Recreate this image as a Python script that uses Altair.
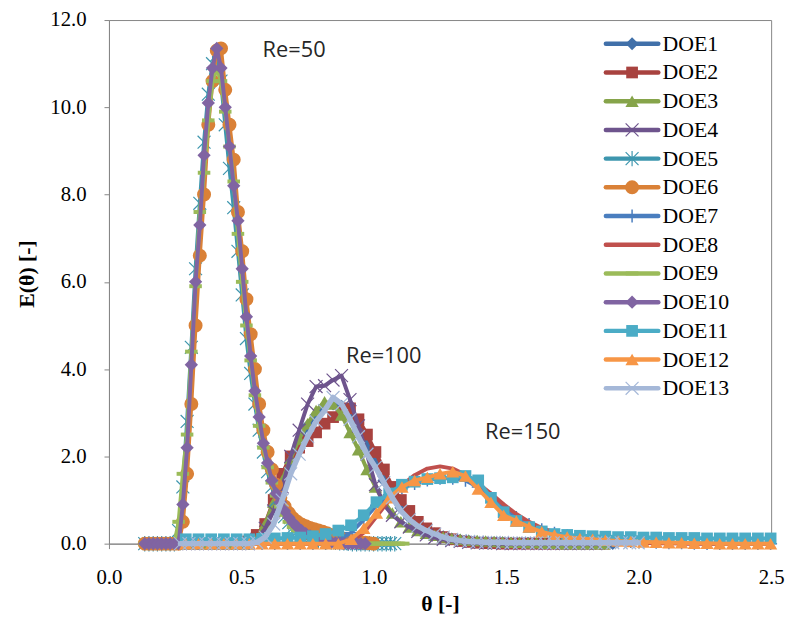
import altair as alt
import pandas as pd

# ---------------- data ----------------
# sampling grids: start theta and step for each Re group
RE50_START, RE50_STEP = 0.135, 0.016
RE100_START, RE100_STEP = 0.27, 0.032
RE150_START, RE150_STEP = 0.29, 0.048

# Re = 100 group
doe1 = [0, 0, 0, 0, 0, 0, 0, 0, 0, 0.1, 0.4, 0.85, 1.35, 1.85, 2.3, 2.7, 2.95, 3.15, 3.2, 3.15,
        2.95, 2.6, 2.25, 1.85, 1.45, 1.1, 0.82, 0.6, 0.43, 0.31, 0.22, 0.16, 0.11, 0.08, 0.06, 0.04,
        0.03, 0.02, 0.02, 0.01, 0.01, 0.01, 0, 0, 0, 0, 0, 0, 0, 0, 0, 0]
doe2 = [0, 0, 0, 0, 0, 0, 0, 0, 0.05, 0.2, 0.45, 1.0, 1.6, 2.0, 2.2, 2.35, 2.55, 2.75, 2.9, 3.0,
        3.1, 2.85, 2.5, 2.1, 1.7, 1.3, 1.0, 0.75, 0.5, 0.35, 0.24, 0.15, 0.1, 0.06, 0.04, 0.02,
        0.01, 0.01, 0, 0, 0, 0, 0, 0, 0, 0, 0, 0, 0, 0, 0]
doe3 = [0, 0, 0, 0, 0, 0, 0, 0, 0, 0.1, 0.45, 0.95, 1.45, 1.95, 2.4, 2.75, 3.05, 3.25, 3.2, 2.95,
        2.55, 2.15, 1.7, 1.3, 0.95, 0.7, 0.5, 0.38, 0.3, 0.24, 0.19, 0.15, 0.12, 0.1, 0.08, 0.07,
        0.06, 0.05, 0.04, 0.03, 0.03, 0.02, 0.02, 0.01, 0.01, 0, 0, 0, 0, 0, 0]
doe4 = [0, 0, 0, 0, 0, 0, 0, 0, 0, 0.1, 0.35, 0.75, 1.3, 2.0, 2.6, 3.2, 3.6, 3.62, 3.75, 3.85,
        3.3, 2.7, 2.05, 1.35, 0.9, 0.65, 0.5, 0.38, 0.28, 0.2, 0.14, 0.1, 0.07, 0.05, 0.03, 0.02,
        0.01, 0.01, 0, 0, 0, 0, 0, 0, 0, 0, 0, 0, 0, 0]
doe13 = [0, 0, 0, 0, 0, 0, 0, 0, 0, 0.03, 0.15, 0.45, 1.0, 1.6, 2.05, 2.45, 2.8, 3.05, 3.35, 3.2,
         2.85, 2.45, 2.05, 1.75, 1.4, 1.05, 0.75, 0.55, 0.4, 0.3, 0.22, 0.15, 0.1, 0.07, 0.05, 0.04,
         0.03, 0.03, 0.03, 0.02, 0.02, 0.02, 0.02, 0.02, 0.02, 0.02, 0.02, 0.02, 0.02, 0.02, 0.02,
         0.02, 0.02, 0.02, 0.02]

# Re = 50 group
doe5 = [0, 0, 0, 0, 0, 0, 0, 0, 0.3, 1.3, 2.8, 4.5, 6.3, 7.8, 9.2, 10.3, 11.0, 11.2, 10.6, 9.6,
        8.6, 7.7, 6.7, 5.7, 4.7, 3.9, 3.2, 2.6, 2.1, 1.65, 1.3, 1.0, 0.8, 0.62, 0.48, 0.37, 0.28,
        0.22, 0.17, 0.13, 0.1, 0.08, 0.06, 0.05, 0.04, 0.03, 0.02, 0.02, 0.01, 0, 0, 0, 0, 0, 0,
        0, 0, 0, 0, 0]
doe6 = [0, 0, 0, 0, 0, 0, 0, 0, 0, 0.5, 1.6, 3.2, 5.0, 6.6, 8.0, 9.6, 10.6, 11.3, 11.35, 10.4,
        9.6, 8.8, 7.6, 6.7, 5.6, 4.8, 4.0, 3.2, 2.6, 2.1, 1.7, 1.35, 1.05, 0.85, 0.7, 0.58, 0.5,
        0.44, 0.4, 0.36, 0.33, 0.3, 0.27, 0.24, 0.2, 0.17, 0.14, 0.11, 0.08, 0.06, 0.04, 0.03,
        0.02, 0.01, 0]
doe9 = [0, 0, 0, 0, 0, 0, 0, 0, 0.5, 1.6, 2.5, 4.4, 5.9, 7.6, 8.5, 9.7, 10.6, 10.9, 10.6, 9.9,
        9.1, 8.3, 7.1, 6.0, 5.0, 4.2, 3.4, 2.7, 2.2, 1.75, 1.4, 1.1, 0.85, 0.66, 0.5, 0.38, 0.29,
        0.22, 0.17, 0.13, 0.1, 0.08, 0.06, 0.05, 0.04, 0.03, 0.02, 0.02, 0.01, 0, 0, 0, 0, 0, 0,
        0, 0, 0, 0, 0, 0, 0]
doe10 = [0, 0, 0, 0, 0, 0, 0, 0, 0, 0.9, 2.2, 4.1, 6.0, 7.3, 8.9, 10.1, 10.9, 11.35, 10.9, 10.0,
         9.1, 8.2, 7.4, 6.3, 5.2, 4.3, 3.5, 2.9, 2.3, 1.85, 1.45, 1.15, 0.95, 0.75, 0.6, 0.48,
         0.38, 0.3, 0.23, 0.18, 0.13, 0.1, 0.07, 0.05, 0.03, 0.02, 0.01, 0, 0, 0, 0, 0, 0]

# Re = 150 group
doe7 = [0, 0, 0, 0, 0, 0, 0, 0, 0, 0, 0, 0, 0.08, 0.25, 0.55, 0.88, 1.12, 1.28, 1.38, 1.46, 1.5,
        1.5, 1.45, 1.3, 1.05, 0.8, 0.6, 0.44, 0.32, 0.24, 0.18, 0.13, 0.1, 0.08, 0.06, 0.05, 0.04,
        0.03, 0.02, 0.02, 0.01, 0, 0, 0, 0, 0, 0]
doe8 = [0, 0, 0, 0, 0, 0, 0, 0, 0, 0, 0, 0, 0, 0.05, 0.25, 0.62, 1.0, 1.33, 1.57, 1.72, 1.77,
        1.72, 1.58, 1.38, 1.15, 0.9, 0.68, 0.5, 0.36, 0.26, 0.18, 0.13, 0.09, 0.06, 0.04, 0.03,
        0.02, 0.01, 0.01, 0, 0, 0, 0, 0, 0, 0, 0]
doe11 = [0.1, 0.1, 0.1, 0.1, 0.1, 0.1, 0.11, 0.12, 0.13, 0.14, 0.17, 0.22, 0.3, 0.42, 0.65, 0.95,
         1.15, 1.35, 1.42, 1.48, 1.5, 1.52, 1.55, 1.45, 1.05, 0.72, 0.52, 0.38, 0.28, 0.22, 0.2,
         0.18, 0.17, 0.16, 0.15, 0.15, 0.14, 0.14, 0.13, 0.13, 0.13, 0.12, 0.12, 0.12, 0.12, 0.12,
         0.12]
doe12 = [0, 0, 0, 0, 0, 0, 0, 0, 0, 0, 0, 0, 0, 0.1, 0.35, 0.7, 1.05, 1.3, 1.45, 1.52, 1.6, 1.65,
         1.55, 1.25, 0.95, 0.65, 0.52, 0.38, 0.27, 0.2, 0.15, 0.12, 0.1, 0.08, 0.06, 0.05, 0.04,
         0.03, 0.02, 0.02, 0.01, 0.01, 0, 0, 0, 0, 0]

series_names = ["DOE1", "DOE2", "DOE3", "DOE4", "DOE5", "DOE6", "DOE7",
                "DOE8", "DOE9", "DOE10", "DOE11", "DOE12", "DOE13"]
series_values = [doe1, doe2, doe3, doe4, doe5, doe6, doe7, doe8, doe9, doe10, doe11, doe12, doe13]
series_grid = [
    (RE100_START, RE100_STEP), (RE100_START, RE100_STEP), (RE100_START, RE100_STEP),
    (RE100_START, RE100_STEP), (RE50_START, RE50_STEP), (RE50_START, RE50_STEP),
    (RE150_START, RE150_STEP), (RE150_START, RE150_STEP), (RE50_START, RE50_STEP),
    (RE50_START, RE50_STEP), (RE150_START, RE150_STEP), (RE150_START, RE150_STEP),
    (RE100_START, RE100_STEP),
]

annot_labels = ["Re=50", "Re=100", "Re=150"]
annot_theta = [0.58, 0.895, 1.42]
annot_E = [11.32, 4.29, 2.56]

# ---------------- styles ----------------
TICK_FONT = "Times New Roman"
LEGEND_FONT = "serif"
TITLE_FONT = "Liberation Serif"
X_PATH = "M-1,-1L1,1M-1,1L1,-1"
STAR_PATH = "M-1,-1L1,1M-1,1L1,-1M0,-1.2L0,1.2"
PLUS_PATH = "M0,-1L0,1M-1,0L1,0"
DASH_PATH = "M-1,0L1,0"

styles = {
    "DOE1": dict(color="#4170A9", shape="diamond", filled=True, size=170, sw=1, lw=4),
    "DOE2": dict(color="#A8423F", shape="square", filled=True, size=140, sw=1, lw=4),
    "DOE3": dict(color="#86A44A", shape="triangle-up", filled=True, size=180, sw=1, lw=4),
    "DOE4": dict(color="#6E548D", shape=X_PATH, filled=False, size=170, sw=1.2, lw=4),
    "DOE5": dict(color="#3D96AE", shape=STAR_PATH, filled=False, size=170, sw=1.2, lw=4),
    "DOE6": dict(color="#DA8137", shape="circle", filled=True, size=200, sw=1, lw=4),
    "DOE7": dict(color="#4A7EBF", shape=PLUS_PATH, filled=False, size=170, sw=1.5, lw=4),
    "DOE8": dict(color="#C0504D", shape=None, filled=False, size=0, sw=0, lw=4),
    "DOE9": dict(color="#9BBB59", shape=DASH_PATH, filled=False, size=160, sw=4, lw=4),
    "DOE10": dict(color="#8064A2", shape="diamond", filled=True, size=180, sw=1, lw=4),
    "DOE11": dict(color="#4BACC6", shape="square", filled=True, size=140, sw=1, lw=4),
    "DOE12": dict(color="#F79646", shape="triangle-up", filled=True, size=180, sw=1, lw=4),
    "DOE13": dict(color="#A5B8D8", shape=X_PATH, filled=False, size=170, sw=1.2, lw=5.5),
}

PLOT_TOP = 17
PLOT_H = 529
xs = alt.Scale(domain=[0, 2.5], nice=False, zero=False)
ys = alt.Scale(domain=[0, 12], nice=False, zero=False)
xaxis = alt.Axis(values=[0, 0.5, 1.0, 1.5, 2.0, 2.5], format=".1f", title="θ [-]",
                 labelFlush=False, labelOverlap=False, tickSize=5, labelPadding=18,
                 titleY=68, titleBaseline="alphabetic")
yaxis = alt.Axis(values=[0, 2, 4, 6, 8, 10, 12], format=".1f", title="E(θ) [-]",
                 labelFlush=False, labelOverlap=False, tickSize=5, labelPadding=18,
                 titleAngle=270, titleX=-83, titleY=273 - PLOT_TOP, titleAlign="center",
                 titleBaseline="middle")


def X(field):
    return alt.X(field, type="quantitative", scale=xs, axis=xaxis)


def Y(field):
    return alt.Y(field, type="quantitative", scale=ys, axis=yaxis)


layers = []
for name, vals, (start, step) in zip(series_names, series_values, series_grid):
    st = styles[name]
    df = pd.DataFrame({"theta": [round(start + i * step, 4) for i in range(len(vals))],
                       "E": vals})
    base = alt.Chart(df)
    layers.append(base.mark_line(color=st["color"], strokeWidth=st["lw"],
                                 strokeJoin="round", strokeCap="round")
                  .encode(x=X("theta"), y=Y("E")))
    if st["shape"] is not None:
        layers.append(base.mark_point(shape=st["shape"], filled=st["filled"], size=st["size"],
                                      color=st["color"], strokeWidth=st["sw"], opacity=1)
                      .encode(x=X("theta"), y=Y("E")))

# annotations
adf = pd.DataFrame({"label": annot_labels, "theta": annot_theta, "E": annot_E})
layers.append(alt.Chart(adf).mark_text(align="left", baseline="middle", font="Open Sans",
                                       fontSize=22, color="#262626")
              .encode(x=X("theta"), y=Y("E"), text="label:N"))

# legend (inside the plot area, laid out in axis units)
LEG_X0, LEG_X1, LEG_XM, LEG_XT = 1.876, 2.074, 1.975, 2.09
LEG_TOP, LEG_STEP = 11.456, 0.658
for i, name in enumerate(series_names):
    st = styles[name]
    ldf = pd.DataFrame({"x0": [LEG_X0], "x1": [LEG_X1], "xm": [LEG_XM], "xt": [LEG_XT],
                        "y": [LEG_TOP - i * LEG_STEP], "name": [name]})
    lb = alt.Chart(ldf)
    layers.append(lb.mark_rule(color=st["color"], strokeWidth=4.5, strokeCap="round")
                  .encode(x=X("x0"), x2=alt.X2("x1"), y=Y("y")))
    if st["shape"] is not None:
        layers.append(lb.mark_point(shape=st["shape"], filled=st["filled"], size=st["size"],
                                    color=st["color"], strokeWidth=st["sw"], opacity=1)
                      .encode(x=X("xm"), y=Y("y")))
    layers.append(lb.mark_text(align="left", baseline="middle", font=LEGEND_FONT,
                               fontSize=22, fontWeight="normal", color="black")
                  .encode(x=X("xt"), y=Y("y"), text="name:N"))

chart = alt.layer(*layers).properties(
    width=669, height=PLOT_H,
    autosize=alt.AutoSizeParams(type="none"),
    padding={"left": 102, "top": PLOT_TOP - 8, "right": 14, "bottom": 76},
).configure_view(
    stroke="#868686", strokeWidth=1
).configure_axis(
    grid=False, domainColor="#868686", tickColor="#868686",
    labelFont=TICK_FONT, labelFontSize=21, labelFontWeight="normal", labelColor="black",
    titleFont=TITLE_FONT, titleFontSize=22, titleFontWeight="bold", titleColor="black",
)

chart.save("out.html", embed_options={"renderer": "svg", "actions": False})
